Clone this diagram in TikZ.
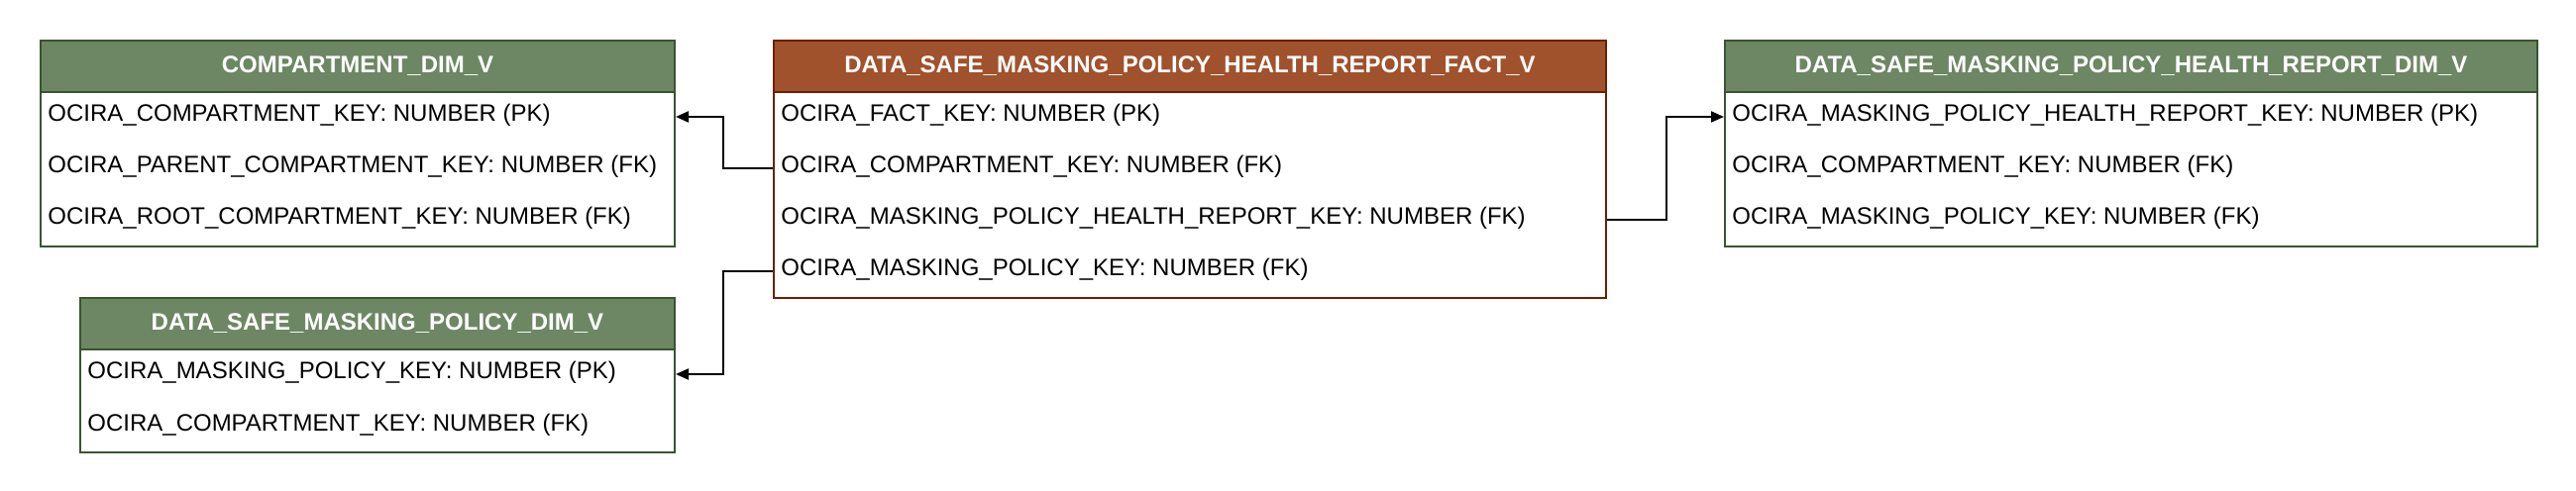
\documentclass[tikz,border=0pt]{standalone}
\usepackage{fontspec}
\setmainfont{Liberation Sans}
\usetikzlibrary{arrows.meta}
\definecolor{dimfill}{HTML}{6D8764}
\definecolor{dimline}{HTML}{3A5431}
\definecolor{factfill}{HTML}{A0522D}
\definecolor{factline}{HTML}{6D1F00}

\begin{document}
\begin{tikzpicture}[x=1pt, y=-1pt,
        head/.style={draw=#1line, fill=#1fill, line width=1pt, text=white, font=\bfseries\fontsize{12}{14}\selectfont, minimum height=26pt, inner sep=0pt, anchor=north west},
        body/.style={draw=#1line, fill=white, line width=1pt, inner sep=0pt, anchor=north west},
        field/.style={font=\fontsize{12}{14}\selectfont, text height=9pt, text depth=4pt, inner sep=0pt, anchor=west},
        link/.style={line width=1pt, -{Triangle[length=6.5pt, width=5.5pt]}}]
    \useasboundingbox (0, 0) rectangle (1300, 248);

    % compartment dim
    \node [head=dim, minimum width=320pt] (compHead) at (20, 20) {COMPARTMENT\_DIM\_V};
    \node [body=dim, minimum width=320pt, minimum height=78pt] (compBody) at (20, 46) {};
    \node [field] (comp1) at (24, 59) {OCIRA\_COMPARTMENT\_KEY: NUMBER (PK)};
    \node [field] (comp2) at (24, 85) {OCIRA\_PARENT\_COMPARTMENT\_KEY: NUMBER (FK)};
    \node [field] (comp3) at (24, 111) {OCIRA\_ROOT\_COMPARTMENT\_KEY: NUMBER (FK)};

    % masking policy dim
    \node [head=dim, minimum width=300pt] (maskHead) at (40, 150) {DATA\_SAFE\_MASKING\_POLICY\_DIM\_V};
    \node [body=dim, minimum width=300pt, minimum height=52pt] (maskBody) at (40, 176) {};
    \node [field] (mask1) at (44, 189) {OCIRA\_MASKING\_POLICY\_KEY: NUMBER (PK)};
    \node [field] (mask2) at (44, 215) {OCIRA\_COMPARTMENT\_KEY: NUMBER (FK)};

    % fact
    \node [head=fact, minimum width=420pt] (factHead) at (390, 20) {DATA\_SAFE\_MASKING\_POLICY\_HEALTH\_REPORT\_FACT\_V};
    \node [body=fact, minimum width=420pt, minimum height=104pt] (factBody) at (390, 46) {};
    \node [field] (fact1) at (394, 59) {OCIRA\_FACT\_KEY: NUMBER (PK)};
    \node [field] (fact2) at (394, 85) {OCIRA\_COMPARTMENT\_KEY: NUMBER (FK)};
    \node [field] (fact3) at (394, 111) {OCIRA\_MASKING\_POLICY\_HEALTH\_REPORT\_KEY: NUMBER (FK)};
    \node [field] (fact4) at (394, 137) {OCIRA\_MASKING\_POLICY\_KEY: NUMBER (FK)};

    % health report dim
    \node [head=dim, minimum width=410pt] (reportHead) at (870, 20) {DATA\_SAFE\_MASKING\_POLICY\_HEALTH\_REPORT\_DIM\_V};
    \node [body=dim, minimum width=410pt, minimum height=78pt] (reportBody) at (870, 46) {};
    \node [field] (report1) at (874, 59) {OCIRA\_MASKING\_POLICY\_HEALTH\_REPORT\_KEY: NUMBER (PK)};
    \node [field] (report2) at (874, 85) {OCIRA\_COMPARTMENT\_KEY: NUMBER (FK)};
    \node [field] (report3) at (874, 111) {OCIRA\_MASKING\_POLICY\_KEY: NUMBER (FK)};

    % keys
    \draw [link] (fact2 -| factBody.west) -- ++(-25, 0) |- (comp1 -| compBody.east);
    \draw [link] (fact4 -| factBody.west) -- ++(-25, 0) |- (mask1 -| maskBody.east);
    \draw [link] (fact3 -| factBody.east) -- ++(30, 0) |- (report1 -| reportBody.west);
\end{tikzpicture}
\end{document}
